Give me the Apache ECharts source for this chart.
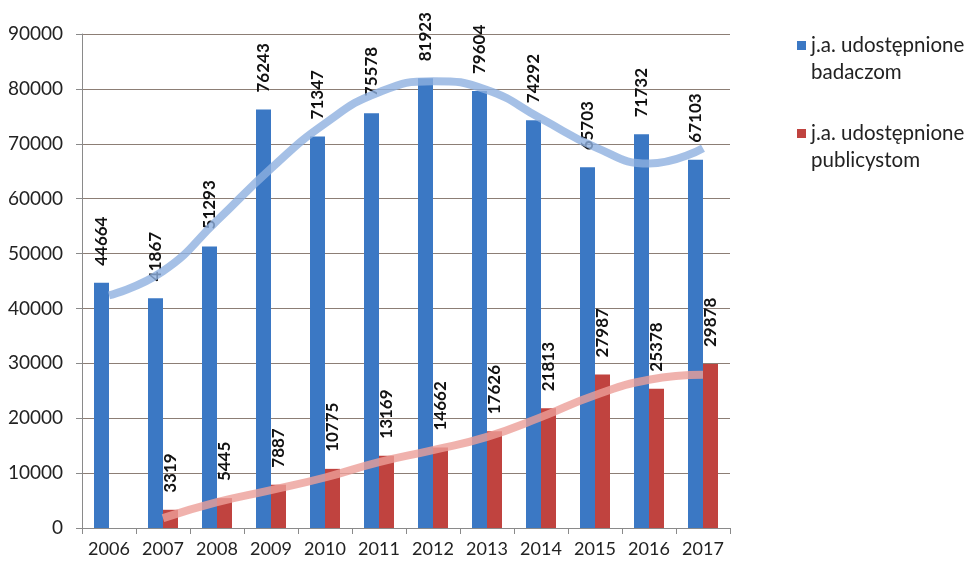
<!DOCTYPE html>
<html>
<head>
<meta charset="utf-8">
<script src="https://cdn.jsdelivr.net/npm/echarts@6/dist/echarts.min.js"></script>
<style>
  html, body { margin: 0; padding: 0; background: #fff; }
  #chart { width: 969px; height: 571px; }
</style>
</head>
<body>
<div id="chart"></div>
<script>
const years = ['2006', '2007', '2008', '2009', '2010', '2011', '2012', '2013', '2014', '2015', '2016', '2017'];
const badaczom = [44664, 41867, 51293, 76243, 71347, 75578, 81923, 79604, 74292, 65703, 71732, 67103];
const publicystom = [null, 3319, 5445, 7887, 10775, 13169, 14662, 17626, 21813, 27987, 25378, 29878];
// linie trendu
const trendBadaczom = [42400, 46800, 56000, 65500, 73700, 79400, 81400, 79800, 74600, 69400, 66400, 69200];
const trendPublicystom = [null, 1800, 4700, 6900, 9200, 12000, 14200, 16600, 20200, 24200, 27000, 27900];

const chart = echarts.init(document.getElementById('chart'));
const font = 'Lato, "Open Sans", sans-serif';

const barLabel = {
  show: true,
  position: 'top',
  rotate: 90,
  align: 'left',
  verticalAlign: 'middle',
  distance: 17,
  color: '#111',
  fontWeight: 'bold',
  fontSize: 17,
  fontFamily: font
};

// kwadracik przy pierwszej linii tekstu legendy (niewidoczne punkty rozciągają ikonę na 2 linie)
const legendIcon = 'path://M0,0h0.01v0.01h-0.01z M0,9h9v9h-9z M0,53.99h0.01v0.01h-0.01z';

chart.setOption({
  animation: false,
  textStyle: { fontFamily: font },
  grid: { left: 82, right: 239, top: 34, bottom: 43 },
  legend: {
    orient: 'vertical',
    left: 792,
    top: 27,
    itemWidth: 9,
    itemHeight: 54,
    itemGap: 34,
    icon: legendIcon,
    data: ['j.a. udostępnione\nbadaczom', 'j.a. udostępnione\npublicystom'],
    textStyle: { fontSize: 20.5, color: '#222', fontFamily: font, lineHeight: 27 }
  },
  xAxis: {
    type: 'category',
    data: years,
    axisLine: { lineStyle: { color: '#8a8a8a', width: 1 } },
    axisTick: { show: true, length: 6, lineStyle: { color: '#8a8a8a' } },
    axisLabel: { color: '#222', fontSize: 18, margin: 12, interval: 0, fontFamily: font }
  },
  yAxis: {
    type: 'value',
    min: 0,
    max: 90000,
    interval: 10000,
    axisLine: { show: true, lineStyle: { color: '#8a8a8a' } },
    axisTick: { show: true, length: 6, lineStyle: { color: '#8a8a8a' } },
    axisLabel: { color: '#222', fontSize: 19, margin: 19, fontFamily: font, formatter: (v) => String(v) },
    splitLine: { lineStyle: { color: '#8c7e75', width: 1 } }
  },
  series: [
    {
      name: 'j.a. udostępnione\nbadaczom',
      type: 'bar',
      data: badaczom,
      barWidth: 15,
      barGap: '0%',
      itemStyle: { color: '#3b78c4' },
      label: barLabel
    },
    {
      name: 'j.a. udostępnione\npublicystom',
      type: 'bar',
      data: publicystom,
      barWidth: 15,
      barGap: '0%',
      itemStyle: { color: '#c0433f' },
      label: barLabel
    },
    {
      type: 'line',
      data: trendBadaczom,
      smooth: true,
      symbol: 'none',
      z: 5,
      lineStyle: { color: '#8fb0e0', width: 8, opacity: 0.8 }
    },
    {
      type: 'line',
      data: trendPublicystom,
      smooth: true,
      symbol: 'none',
      z: 5,
      lineStyle: { color: '#ec9f98', width: 8, opacity: 0.8 }
    }
  ]
});
</script>
</body>
</html>
